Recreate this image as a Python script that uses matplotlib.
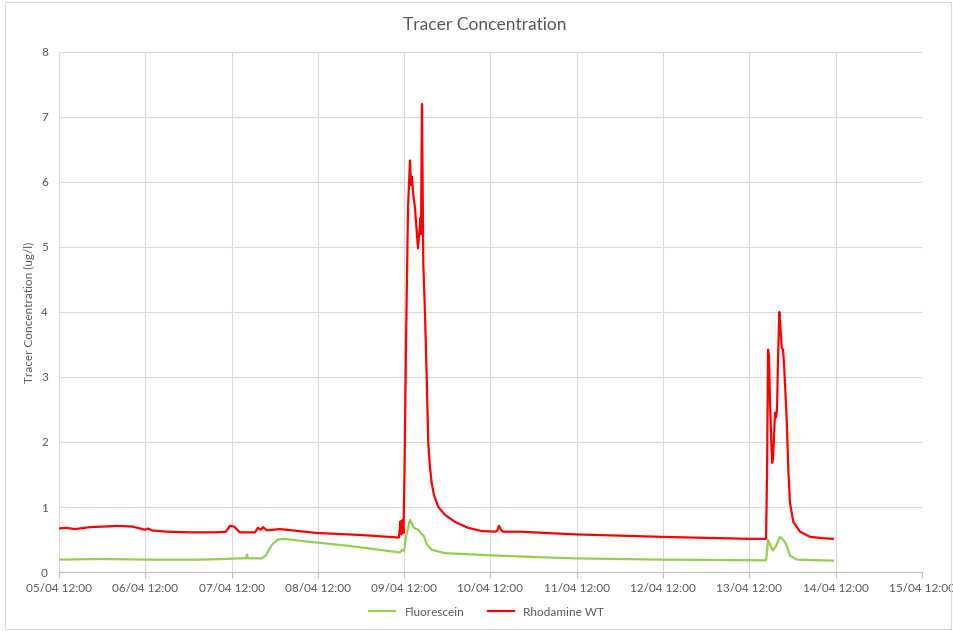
import matplotlib
matplotlib.use("Agg")
import matplotlib.pyplot as plt
import matplotlib.dates as mdates
from matplotlib.patches import Rectangle
from datetime import datetime, timedelta

plt.rcParams['font.family'] = ['Lato', 'DejaVu Sans']

start = datetime(2019, 4, 5, 12, 0)

# hours since 05/04 12:00 and concentrations (ug/l)
red_hours = [0.0, 1.95, 4.45, 8.62, 12.79, 16.13, 20.30, 22.53, 23.92, 24.75, 25.86,
             30.03, 36.43, 43.38, 46.44, 47.56, 48.67, 50.34, 54.51, 55.34, 56.18,
             56.73, 57.84, 61.46, 71.75, 83.71, 94.55, 94.97, 95.25, 95.53, 95.80,
             96.08, 96.50, 97.06, 97.61, 97.89, 98.17, 98.45, 99.0, 99.84, 100.25,
             100.53, 100.67, 100.95, 101.31, 101.78, 102.26, 102.70, 103.18, 103.65,
             104.29, 105.49, 107.35, 110.13, 113.74, 117.55, 121.25, 121.81, 122.36,
             122.92, 123.48, 128.20,
             142.94, 167.97, 192.17, 196.62, 196.90, 197.18, 197.45, 197.73, 198.29,
             198.57, 199.12, 199.40, 199.68, 199.96, 200.32, 200.65, 200.98, 201.35,
             201.63, 202.37, 202.82, 203.29, 204.21, 206.08, 208.86, 212.47, 215.25]
red_vals = [0.67, 0.68, 0.66, 0.69, 0.70, 0.71, 0.70, 0.67, 0.65, 0.67, 0.64,
            0.62, 0.61, 0.61, 0.62, 0.71, 0.70, 0.61, 0.61, 0.68, 0.65,
            0.69, 0.64, 0.66, 0.60, 0.57, 0.53, 0.78, 0.58, 0.80, 0.60,
            1.5, 3.5, 5.6, 6.33, 5.95, 6.08, 5.85, 5.6, 4.98, 5.25,
            5.45, 5.2, 7.2, 4.75, 3.98, 3.0, 1.98, 1.6, 1.37,
            1.18, 1.0, 0.88, 0.77, 0.68, 0.63, 0.62, 0.63, 0.71,
            0.65, 0.62, 0.62,
            0.58, 0.54, 0.51, 0.51, 1.5, 3.42, 3.3, 2.6, 1.68,
            1.75, 2.45, 2.38, 2.5, 3.3, 4.0, 3.75, 3.45, 3.42,
            3.2, 2.34, 1.57, 1.06, 0.77, 0.62, 0.54, 0.52, 0.51]

green_hours = [0.0, 11.40, 25.31, 39.21, 46.16, 50.34, 52.0, 52.28, 52.56, 56.45,
               57.57, 59.24, 60.90, 62.85, 67.02, 80.93, 94.83, 95.39, 95.94, 96.50,
               97.61, 98.73, 99.84, 100.67, 101.51, 102.34, 103.73, 107.35, 122.64,
               142.94, 167.97, 196.62, 197.18, 197.73, 198.57, 199.40, 199.96, 200.51,
               201.35, 202.18, 203.30, 205.25, 215.25]
green_vals = [0.19, 0.20, 0.19, 0.19, 0.20, 0.21, 0.21, 0.27, 0.21, 0.21,
              0.26, 0.42, 0.50, 0.51, 0.48, 0.40, 0.30, 0.34, 0.32, 0.55,
              0.80, 0.68, 0.65, 0.60, 0.55, 0.42, 0.34, 0.29, 0.25,
              0.21, 0.19, 0.18, 0.49, 0.42, 0.33, 0.40, 0.48, 0.54,
              0.50, 0.43, 0.25, 0.19, 0.175]

series_names = ["Fluorescein", "Rhodamine WT"]
x_ticks_days = list(range(0, 11))
y_ticks = [0, 1, 2, 3, 4, 5, 6, 7, 8]

red_t = [start + timedelta(hours=h) for h in red_hours]
green_t = [start + timedelta(hours=h) for h in green_hours]

fig = plt.figure(figsize=(9.54, 6.31), dpi=100)
ax = fig.add_axes([0.0618, 0.0935, 0.9047, 0.8241])

ax.plot(green_t, green_vals, color='#92D050', lw=1.6, label=series_names[0])
ax.plot(red_t, red_vals, color='#FF0000', lw=1.6, label=series_names[1])

ax.set_xlim(start, start + timedelta(days=10))
ax.set_ylim(0, 8)
ax.set_xticks([start + timedelta(days=d) for d in x_ticks_days])
ax.xaxis.set_major_formatter(mdates.DateFormatter('%d/%m %H:%M'))
ax.set_yticks(y_ticks)

ax.grid(True, color='#d9d9d9', lw=0.8)
ax.set_axisbelow(True)
for s in ['top', 'right', 'left']:
    ax.spines[s].set_visible(False)
ax.spines['bottom'].set_color('#bfbfbf')
ax.tick_params(axis='y', length=0, labelsize=8.5, colors='#595959', pad=8)
ax.tick_params(axis='x', length=4, color='#bfbfbf', labelsize=8.5, colors='#595959', pad=4)

ax.set_ylabel('Tracer Concentration (ug/l)', fontsize=8.5, color='#595959', labelpad=4)
fig.text(0.508, 0.96, 'Tracer Concentration', ha='center', va='center',
         fontsize=12.5, color='#595959')

leg = fig.legend(loc='center', bbox_to_anchor=(0.51, 0.03), ncol=2, frameon=False,
                 fontsize=8.5, handlelength=2.2, columnspacing=2.0)
for t in leg.get_texts():
    t.set_color('#595959')

fig.patches.append(Rectangle((0.005, 0.003), 0.992, 0.994, transform=fig.transFigure,
                             fill=False, edgecolor='#d9d9d9', lw=0.8))

fig.savefig('out.png', dpi=100)
